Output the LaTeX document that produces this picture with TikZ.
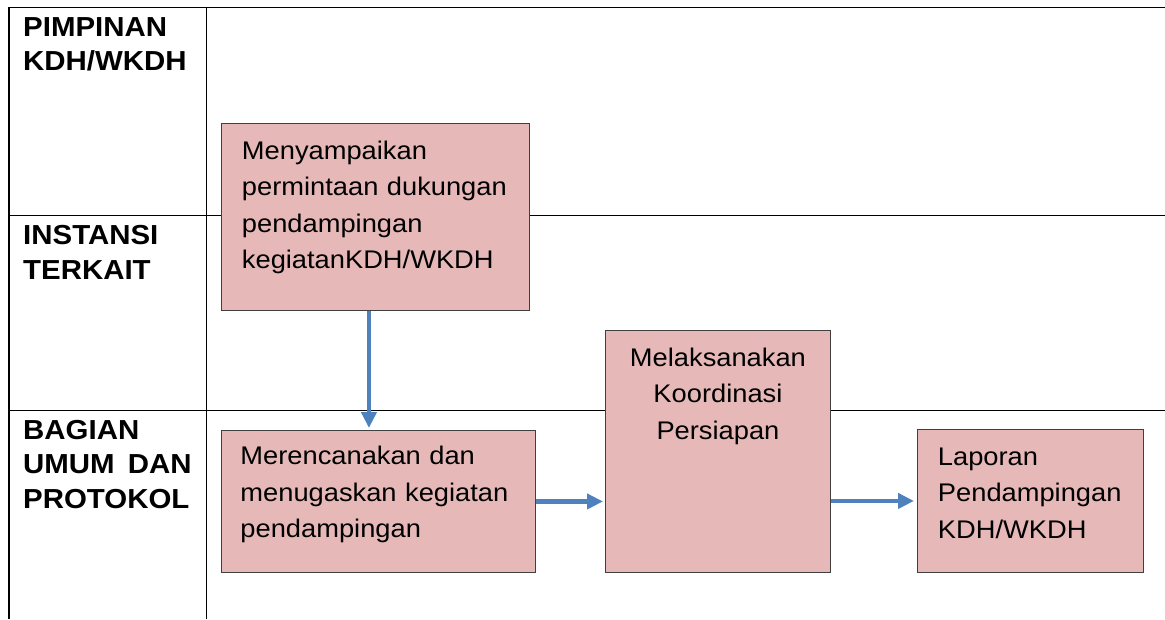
\documentclass[tikz,border=0pt]{standalone}
\usepackage{fontspec}
\setmainfont{Liberation Sans}[FakeStretch=1.07]
\usepackage{tikz}
\usetikzlibrary{arrows.meta}
\definecolor{boxpink}{HTML}{E6B9B8}
\definecolor{boxedge}{HTML}{404040}
\definecolor{flowblue}{HTML}{4F81BD}
\hyphenpenalty=10000
\exhyphenpenalty=10000

\begin{document}
\begin{tikzpicture}[
    x=1pt, y=-1pt,
    lane/.style={
        anchor=north west,
        inner sep=0pt,
        align=left,
        text width=180pt,
        text height=19.7pt,
        font=\fontsize{27.5}{34.5}\selectfont\bfseries
    },
    box/.style={
        rectangle,
        draw=boxedge,
        fill=boxpink,
        line width=0.9pt,
        anchor=north west,
        text height=18.3pt,
        font=\fontsize{25.5}{36.4}\selectfont,
        align=left
    },
    bluearrow/.style={
        -{Triangle[length=16pt,width=15pt]},
        line width=4.5pt,
        draw=flowblue
    }
]
\useasboundingbox (0,0) rectangle (1165,619);

% Lane grid
\draw[line width=1.3pt] (1165,7.5) -- (9,7.5) -- (9,619);
\draw[line width=1.3pt] (206.5,7.5) -- (206.5,619);
\draw[line width=1.8pt] (9,215.5) -- (1165,215.5);
\draw[line width=1pt] (9,410) -- (1165,410);

% Lane labels
\node[lane] (pimpinan) at (23,16.5) {PIMPINAN\\KDH/WKDH};
\node[lane] (instansi) at (23,225) {INSTANSI\\TERKAIT};
\node[lane] (bagian) at (23,419.5) {BAGIAN\\UMUM\hspace{4pt} DAN\\PROTOKOL};

% Process boxes
\node[box, inner xsep=20.5pt, inner ysep=17.7pt, text width=267pt, text depth=133.3pt] (request) at (221,123) {Menyampaikan\\permintaan dukungan\\pendampingan\\kegiatanKDH/WKDH};
\node[box, inner xsep=19pt, inner ysep=16pt, text width=276pt, text depth=91.7pt] (plan) at (221,430) {Merencanakan dan\\menugaskan kegiatan\\pendampingan};
\node[box, align=center, inner xsep=10pt, inner ysep=17.7pt, text width=205pt, text depth=188.3pt] (coordination) at (605,330) {Melaksanakan\\Koordinasi\\Persiapan};
\node[box, inner xsep=20.5pt, inner ysep=17.7pt, text width=185pt, text depth=89.3pt] (report) at (917,429) {Laporan\\Pendampingan\\KDH/WKDH};

% Flow
\draw[bluearrow, shorten >=2pt] ([xshift=-6.5pt]request.south) -- ([xshift=-6.5pt]request.south |- plan.north);
\draw[bluearrow, shorten >=2pt] (plan.east) -- (plan.east -| coordination.west);
\draw[bluearrow, shorten >=3pt] (report.west -| coordination.east) -- (report.west);

\end{tikzpicture}
\end{document}
